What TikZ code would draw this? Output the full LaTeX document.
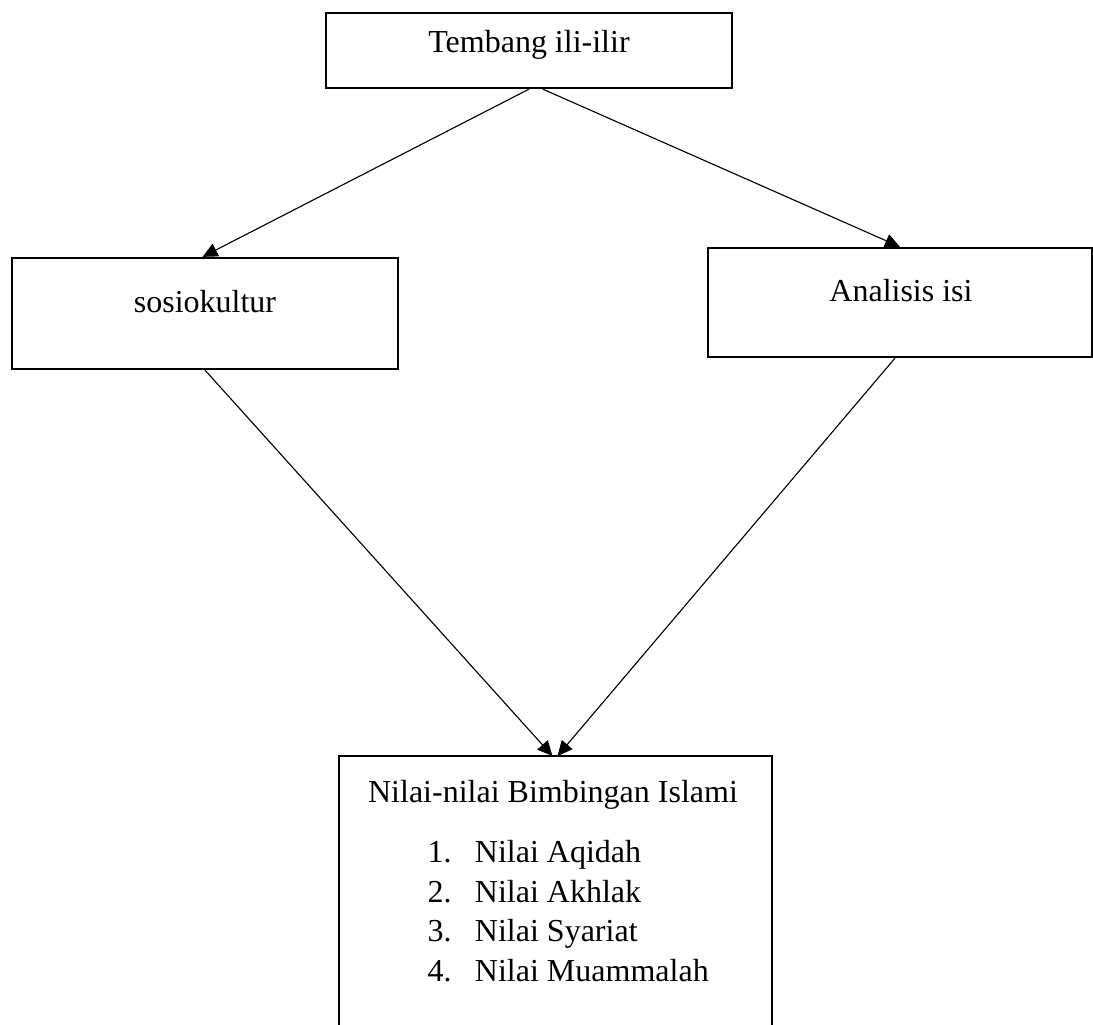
\documentclass[tikz,border=0pt]{standalone}
\usepackage{fontspec}
\setmainfont{Liberation Serif}
\usetikzlibrary{arrows.meta,positioning}

\begin{document}
\begin{tikzpicture}[
    x=0.4pt, y=-0.4pt,
    box/.style={draw, line width=0.9pt, inner sep=0pt},
    txt/.style={anchor=base, inner sep=0pt, font=\fontsize{12.8}{15}\selectfont},
    arr/.style={-{Triangle[length=6pt,width=5.6pt]}, line width=0.45pt}
]

    % Page frame (1 unit = 1 px of the sheet)
    \useasboundingbox (0,0) rectangle (1093,1025);

    % Boxes
    \node[box, minimum width=406*0.4pt, minimum height=75*0.4pt] (tembang) at (529,50.5) {};
    \node[box, minimum width=386*0.4pt, minimum height=111*0.4pt] (sosio) at (205,313.5) {};
    \node[box, minimum width=384*0.4pt, minimum height=109*0.4pt] (analisis) at (900,302.5) {};

    % Bottom box runs off the page, so only three sides
    \node[minimum width=432*0.4pt, minimum height=269*0.4pt, inner sep=0pt, anchor=north] (nilai) at (555,756) {};
    \draw[line width=0.8pt] (nilai.south west) -- (nilai.north west) -- (nilai.north east) -- (nilai.south east);

    % Texts
    \node[txt] (tembanglbl) at (529,53) {Tembang ili-ilir};
    \node[txt] (sosiolbl) at (205,313) {sosiokultur};
    \node[txt] (analisislbl) at (901,302) {Analisis isi};
    \node[txt] (nilailbl) at (553,802) {Nilai-nilai Bimbingan Islami};

    % Numbered list
    \node[txt, anchor=base west] (item1) at (427,862) {\makebox[19pt][l]{1.}Nilai Aqidah};
    \node[txt, anchor=base west] (item2) at (427,902) {\makebox[19pt][l]{2.}Nilai Akhlak};
    \node[txt, anchor=base west] (item3) at (427,941) {\makebox[19pt][l]{3.}Nilai Syariat};
    \node[txt, anchor=base west] (item4) at (427,981) {\makebox[19pt][l]{4.}Nilai Muammalah};

    % Arrows
    \draw[arr] (tembang.south) -- ([xshift=-1pt]sosio.north);
    \draw[arr] ([xshift=5.5pt]tembang.south) -- (analisis.north);
    \draw[arr] (sosio.south) -- ([xshift=-1pt]nilai.north);
    \draw[arr] ([xshift=-2pt]analisis.south) -- ([xshift=1pt]nilai.north);

\end{tikzpicture}
\end{document}
